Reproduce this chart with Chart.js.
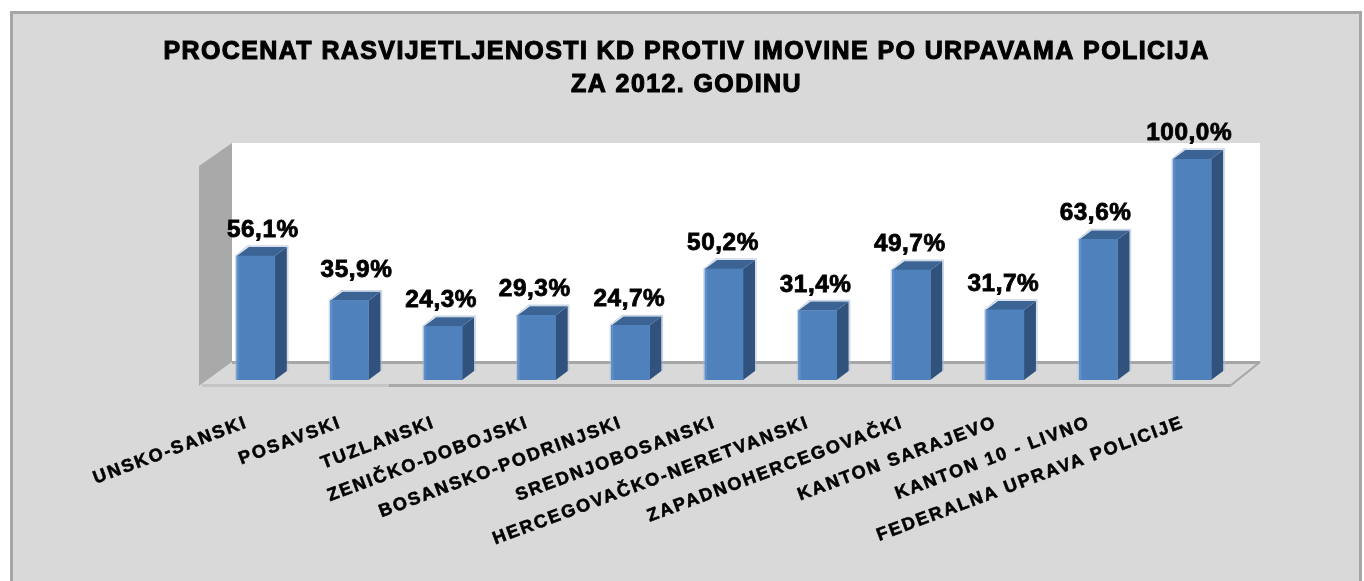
<!DOCTYPE html>
<html lang="bs">
<head>
<meta charset="UTF-8">
<title>Procenat rasvijetljenosti KD</title>
<script src="https://cdn.jsdelivr.net/npm/chart.js"></script>
<style>
    html, body { margin: 0; background: #fff; overflow: hidden; width: 1364px; height: 581px; }
    #frame { position: absolute; left: 10px; top: 11px; width: 1346px; height: 600px; background: #d9d9d9; border: 3px solid #a6a6a6; }
    #grafico { position: absolute; left: 0; top: 0; }
</style>
</head>
<body>
<div id="frame"></div>
<canvas id="grafico" width="1364" height="581"></canvas>
<script>
    // podaci
    const uprave = ["UNSKO-SANSKI", "POSAVSKI", "TUZLANSKI", "ZENIČKO-DOBOJSKI", "BOSANSKO-PODRINJSKI", "SREDNJOBOSANSKI",
        "HERCEGOVAČKO-NERETVANSKI", "ZAPADNOHERCEGOVAČKI", "KANTON SARAJEVO", "KANTON 10 - LIVNO", "FEDERALNA UPRAVA POLICIJE"];
    const procenti = [56.1, 35.9, 24.3, 29.3, 24.7, 50.2, 31.4, 49.7, 31.7, 63.6, 100.0];
    const naslov = ["PROCENAT RASVIJETLJENOSTI KD PROTIV IMOVINE PO URPAVAMA POLICIJA", "ZA 2012. GODINU"];

    const FONT = '"Liberation Sans", Arial, sans-serif';
    const DX = 12, DY = -9; // dubina stubica
    const RAZMAK_OZNAKE = "2px", RAZMAK_NASLOV = "1.4px";
    // pomak natpisa u odnosu na stubic
    const pomakX = [7, 7, -2, -2, -1, -1, -2, -1.5, -1.5, -3, -3];
    const pomakY = [0, -5, 0, 0, 0, 0, 0, 0, 0, 0, 0];

    function poligon(ctx, tacke, boja) {
        ctx.beginPath();
        tacke.forEach((t, i) => i ? ctx.lineTo(t[0], t[1]) : ctx.moveTo(t[0], t[1]));
        ctx.closePath();
        ctx.fillStyle = boja;
        ctx.fill();
    }

    const razmak = {
        id: "razmak",
        beforeDraw(chart) {
            const ctx = chart.ctx, t = chart.titleBlock;
            ctx.letterSpacing = RAZMAK_OZNAKE;
            // naslov ima manji razmak od oznaka
            if (!t.omotan) {
                const crtaj = t.draw;
                t.draw = function () {
                    ctx.letterSpacing = RAZMAK_NASLOV;
                    crtaj.call(t);
                    ctx.letterSpacing = RAZMAK_OZNAKE;
                };
                t.omotan = true;
            }
            // oznake na x osi pomjeriti ulijevo
            const oznake = chart.scales.x.getLabelItems(chart.chartArea);
            if (!oznake.pomaknuto) {
                oznake.forEach(o => { o.options.translation[0] -= 9; });
                oznake.pomaknuto = true;
            }
        },
        afterDraw(chart) {
            // naslov malo deblji
            const ctx = chart.ctx, t = chart.titleBlock;
            const opt = chart.options.plugins.title;
            const visina = opt.font.size * opt.font.lineHeight;
            ctx.save();
            ctx.letterSpacing = RAZMAK_NASLOV;
            ctx.font = "bold " + opt.font.size + "px " + FONT;
            ctx.textAlign = "center";
            ctx.textBaseline = "middle";
            ctx.strokeStyle = "#000";
            ctx.lineWidth = 1.1;
            naslov.forEach((red, i) => {
                ctx.strokeText(red, (t.left + t.right) / 2, t.top + opt.padding.top + visina * (i + 0.5));
            });
            ctx.restore();
        }
    };

    // zidovi i pod
    const zidovi = {
        id: "zidovi",
        beforeDatasetsDraw(chart) {
            const ctx = chart.ctx, a = chart.chartArea;
            const zl = a.left + 23, zd = a.right + 21, zg = a.top - 16, zb = a.bottom - 18;
            const pl = a.left - 10, pd = a.right - 9, pb = a.bottom + 6;
            ctx.save();
            ctx.fillStyle = "#fff";
            ctx.fillRect(zl, zg, zd - zl, zb - zg);
            poligon(ctx, [[pl, zg + 23], [zl, zg], [zl, zb], [pl, pb]], "#a9a9a9");
            poligon(ctx, [[zl, zb], [zd, zb], [pd, pb], [pl, pb]], "#d9d9d9");
            ctx.fillStyle = "#a6a6a6";
            ctx.fillRect(zl, zb - 1, zd - zl, 3);
            ctx.fillStyle = "#c4c4c4";
            ctx.fillRect(pl + 3, pb - 2, 190, 3);
            ctx.fillStyle = "#a8a8a8";
            ctx.fillRect(pl + 190, pb - 2, pd - pl - 190, 3);
            ctx.strokeStyle = "#a6a6a6";
            ctx.lineWidth = 2;
            ctx.beginPath();
            ctx.moveTo(zd, zb);
            ctx.lineTo(pd, pb);
            ctx.stroke();
            ctx.restore();
        }
    };

    // bocna i gornja strana stubica, ispod prednje strane
    const stubici = {
        id: "stubici",
        beforeDatasetsDraw(chart) {
            const ctx = chart.ctx;
            chart.getDatasetMeta(0).data.forEach(bar => {
                const l = bar.x - bar.width / 2, r = bar.x + bar.width / 2, t = bar.y, b = bar.base;
                ctx.save();
                ctx.strokeStyle = "rgba(170,190,215,0.6)";
                ctx.lineWidth = 1.5;
                ctx.beginPath();
                ctx.moveTo(l - 1, b);
                ctx.lineTo(l - 1, t);
                ctx.lineTo(l + DX - 1, t + DY - 1);
                ctx.lineTo(r + DX + 1, t + DY - 1);
                ctx.lineTo(r + DX + 1, b + DY);
                ctx.stroke();
                poligon(ctx, [[r, b], [r + DX, b + DY], [r + DX, t + DY], [r, t]], "#30527c");
                poligon(ctx, [[l, t], [l + DX, t + DY], [r + DX, t + DY], [r, t]], "#3b6494");
                ctx.restore();
            });
        },
        afterDatasetsDraw(chart) {
            const ctx = chart.ctx;
            chart.getDatasetMeta(0).data.forEach((bar, i) => {
                const tekst = procenti[i].toFixed(1).replace(".", ",") + "%";
                ctx.save();
                // svijetla ivica lijevo
                ctx.fillStyle = "#5f90cc";
                ctx.fillRect(bar.x - bar.width / 2, bar.y, 2, bar.base - bar.y);
                ctx.letterSpacing = "0.5px";
                ctx.translate(bar.x + pomakX[i], bar.y - 19 + pomakY[i]);
                ctx.scale(1.06, 1);
                ctx.font = "bold 23px " + FONT;
                ctx.textAlign = "center";
                ctx.textBaseline = "alphabetic";
                ctx.fillStyle = "#000";
                ctx.strokeStyle = "#000";
                ctx.lineWidth = 0.8;
                ctx.fillText(tekst, 0, 0);
                ctx.strokeText(tekst, 0, 0);
                ctx.restore();
            });
        }
    };

    new Chart(document.getElementById("grafico"), {
        type: "bar",
        data: {
            labels: uprave,
            datasets: [{
                data: procenti,
                backgroundColor: "#4f81bd",
                barThickness: 38
            }]
        },
        plugins: [razmak, zidovi, stubici],
        options: {
            responsive: false,
            animation: false,
            events: [],
            layout: { padding: { left: 134, right: 125 } },
            plugins: {
                legend: { display: false },
                tooltip: { enabled: false },
                title: {
                    display: true,
                    text: naslov,
                    color: "#000",
                    font: { family: FONT, size: 25, weight: "bold", lineHeight: 1.32 },
                    padding: { top: 36, bottom: 57 }
                }
            },
            scales: {
                x: {
                    grid: { display: false },
                    border: { display: false },
                    ticks: {
                        color: "#000",
                        font: { family: FONT, size: 18, weight: "bold" },
                        autoSkip: false,
                        minRotation: 20.5,
                        maxRotation: 20.5,
                        padding: 24,
                        textStrokeColor: "#000",
                        textStrokeWidth: 0.6
                    },
                    afterFit(scale) { scale.height = 201; }
                },
                y: {
                    min: 0,
                    max: 100,
                    grid: { display: false },
                    border: { display: false },
                    ticks: { display: false },
                    afterFit(scale) { scale.width = 75; }
                }
            }
        }
    });
</script>
</body>
</html>
